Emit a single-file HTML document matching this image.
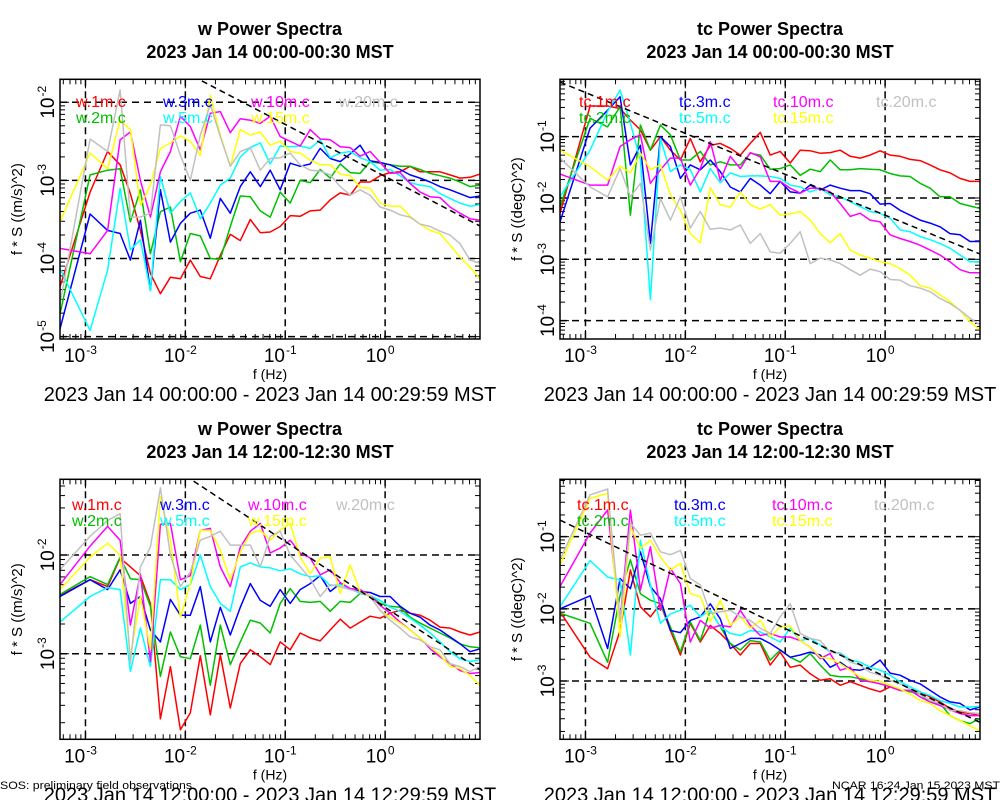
<!DOCTYPE html>
<html><head><meta charset="utf-8"><style>
html,body{margin:0;padding:0;background:#fff}
svg{display:block;font-family:"Liberation Sans",sans-serif}
</style></head><body>
<svg id="chart" width="1000" height="800" viewBox="0 0 1000 800" xmlns="http://www.w3.org/2000/svg">
<rect x="0" y="0" width="1000" height="800" fill="#fff"/>
<text x="0" y="789" font-size="11" textLength="192" lengthAdjust="spacingAndGlyphs">SOS: preliminary field observations</text>
<text x="832" y="789" font-size="11" textLength="168" lengthAdjust="spacingAndGlyphs">NCAR 16:24 Jan 15 2023 MST</text>
</svg>
<script>
// log10 frequency (Hz) for each spectral point
const logFreq = [-3.255,-2.954,-2.778,-2.653,-2.55,-2.45,-2.35,-2.25,-2.15,-2.05,-1.95,-1.85,-1.75,-1.65,-1.55,-1.45,-1.35,-1.25,-1.15,-1.05,-0.95,-0.85,-0.75,-0.65,-0.55,-0.45,-0.35,-0.25,-0.15,-0.05,0.05,0.15,0.25,0.35,0.45,0.55,0.65,0.75,0.85,0.95];
const xTickExps = [-3,-2,-1,0];
const seriesColors = ["#ff0000","#00c000","#0000ff","#00ffff","#ff00ff","#ffff00","#c0c0c0"];
const wNames = ["w.1m.c","w.2m.c","w.3m.c","w.5m.c","w.10m.c","w.15m.c","w.20m.c"];
const tcNames = ["tc.1m.c","tc.2m.c","tc.3m.c","tc.5m.c","tc.10m.c","tc.15m.c","tc.20m.c"];
// log10(f*S) values, panel 1: w 00:00
const w00_1m = [-4.36,-3.15,-2.63,-2.80,-3.17,-3.64,-4.19,-4.45,-4.24,-4.26,-4.02,-4.23,-4.26,-3.96,-3.69,-3.77,-3.50,-3.67,-3.66,-3.59,-3.45,-3.46,-3.39,-3.38,-3.25,-3.16,-3.19,-3.02,-3.02,-2.94,-2.90,-2.89,-2.82,-2.89,-2.89,-2.89,-2.93,-2.97,-2.96,-2.92];
const w00_2m = [-4.71,-2.93,-2.87,-2.85,-3.53,-3.12,-3.94,-3.40,-3.34,-4.04,-3.68,-3.71,-4.00,-4.01,-3.59,-3.20,-3.21,-3.39,-3.47,-3.15,-3.29,-3.00,-3.03,-2.86,-2.97,-2.79,-2.90,-2.91,-2.76,-2.78,-2.80,-2.82,-2.82,-2.86,-2.91,-2.94,-2.97,-3.02,-3.08,-3.06];
const w00_3m = [-4.90,-3.43,-3.64,-3.68,-4.02,-3.51,-4.41,-3.12,-3.79,-3.55,-3.42,-3.38,-3.74,-3.23,-3.42,-3.08,-2.89,-3.08,-2.87,-3.12,-2.78,-2.82,-2.79,-2.59,-2.72,-2.76,-2.66,-2.55,-2.75,-2.77,-2.80,-2.86,-2.93,-2.97,-3.02,-3.08,-3.12,-3.17,-3.22,-3.20];
const w00_5m = [-4.13,-4.92,-4.15,-3.10,-3.89,-3.76,-4.41,-2.95,-3.42,-3.27,-3.16,-3.49,-3.29,-3.06,-2.97,-2.70,-2.58,-2.52,-2.79,-2.56,-2.57,-2.56,-2.59,-2.48,-2.71,-2.65,-2.63,-2.71,-2.76,-2.87,-2.86,-2.94,-3.03,-3.06,-3.08,-3.17,-3.23,-3.29,-3.33,-3.31];
const w00_10m = [-3.87,-3.94,-3.64,-2.48,-2.38,-3.00,-3.47,-2.89,-2.63,-2.18,-2.31,-2.61,-2.14,-2.12,-2.39,-2.21,-2.23,-2.27,-2.18,-2.44,-2.50,-2.56,-2.35,-2.47,-2.48,-2.57,-2.58,-2.69,-2.63,-2.77,-2.91,-2.90,-3.04,-3.15,-3.21,-3.22,-3.34,-3.42,-3.49,-3.51];
const w00_15m = [-3.53,-2.65,-2.85,-2.23,-2.35,-3.32,-3.06,-2.59,-2.52,-2.43,-2.50,-2.68,-1.91,-2.42,-2.82,-2.35,-2.42,-2.38,-2.55,-2.50,-2.63,-2.65,-2.74,-2.80,-2.80,-2.92,-2.94,-3.09,-3.10,-3.29,-3.33,-3.33,-3.46,-3.56,-3.64,-3.68,-3.83,-3.98,-4.11,-4.26];
const w00_20m = [-4.58,-2.47,-2.63,-1.84,-3.47,-3.47,-3.42,-2.29,-2.30,-2.68,-3.00,-2.42,-2.03,-2.44,-2.82,-2.63,-2.58,-2.87,-2.72,-2.71,-2.65,-2.80,-2.87,-2.88,-2.93,-3.08,-3.19,-3.12,-3.19,-3.34,-3.38,-3.44,-3.47,-3.56,-3.59,-3.65,-3.70,-3.81,-4.02,-4.06];
// panel 2: tc 00:00
const tc00_1m = [-2.25,-0.50,-0.50,-0.54,-0.73,-0.89,-1.22,-1.00,-1.22,-1.38,-1.03,-1.41,-1.14,-1.11,-1.19,-1.30,-1.11,-0.93,-1.30,-1.24,-1.43,-1.22,-1.23,-1.27,-1.26,-1.22,-1.32,-1.35,-1.30,-1.23,-1.30,-1.32,-1.37,-1.39,-1.46,-1.54,-1.59,-1.68,-1.73,-1.73];
const tc00_2m = [-2.14,-0.70,-0.84,-0.51,-2.28,-0.81,-1.22,-0.81,-0.97,-1.38,-1.38,-1.24,-1.46,-1.41,-1.46,-1.46,-1.27,-1.30,-1.53,-1.52,-1.46,-1.63,-1.53,-1.57,-1.38,-1.54,-1.54,-1.52,-1.53,-1.54,-1.60,-1.64,-1.65,-1.76,-1.84,-1.98,-1.98,-2.09,-2.13,-2.17];
const tc00_3m = [-2.39,-0.86,-0.57,-0.35,-1.46,-1.14,-2.74,-1.00,-1.16,-1.68,-1.46,-1.54,-1.38,-1.57,-1.82,-1.90,-1.68,-1.79,-1.93,-1.73,-1.90,-1.92,-1.79,-1.87,-1.79,-1.84,-1.88,-1.88,-1.93,-2.10,-2.09,-2.20,-2.28,-2.36,-2.41,-2.47,-2.58,-2.60,-2.71,-2.71];
const tc00_5m = [-1.98,-1.22,-0.59,-0.24,-0.78,-1.38,-3.66,-1.03,-1.57,-1.46,-1.54,-1.90,-1.52,-1.75,-1.59,-1.65,-1.64,-1.64,-1.65,-1.68,-1.79,-1.82,-1.90,-1.84,-1.95,-1.98,-2.06,-2.14,-2.22,-2.25,-2.33,-2.52,-2.55,-2.63,-2.68,-2.74,-2.82,-2.93,-3.04,-3.04];
const tc00_10m = [-1.61,-1.79,-1.79,-1.16,-1.05,-0.97,-1.76,-1.54,-1.35,-1.35,-1.79,-1.52,-1.08,-1.71,-1.32,-1.52,-1.26,-1.33,-1.73,-1.73,-1.84,-1.92,-1.84,-1.84,-1.90,-2.09,-2.30,-2.25,-2.36,-2.39,-2.60,-2.66,-2.71,-2.77,-2.85,-2.93,-3.04,-3.17,-3.22,-3.22];
const tc00_15m = [-1.22,-1.49,-1.71,-1.48,-1.59,-1.27,-1.54,-1.46,-1.95,-2.20,-2.58,-2.73,-1.83,-2.11,-2.15,-1.90,-2.11,-2.18,-2.11,-2.28,-2.26,-2.22,-2.36,-2.58,-2.73,-2.58,-2.85,-2.93,-2.98,-3.04,-3.07,-3.15,-3.26,-3.43,-3.47,-3.58,-3.69,-3.83,-4.02,-4.15];
const tc00_20m = [-1.35,-1.82,-1.98,-1.52,-1.98,-1.76,-2.85,-2.01,-2.36,-1.98,-2.49,-2.22,-2.51,-2.49,-2.52,-2.44,-2.74,-2.58,-2.88,-2.90,-2.74,-2.55,-3.07,-2.98,-3.01,-3.07,-3.17,-3.26,-3.16,-3.20,-3.33,-3.34,-3.43,-3.47,-3.53,-3.64,-3.72,-3.83,-3.96,-4.07];
// panel 3: w 12:00
const w12_1m = [-2.41,-2.25,-2.32,-2.03,-2.12,-2.21,-2.49,-3.66,-3.13,-3.77,-3.60,-3.02,-3.62,-3.01,-3.55,-3.10,-2.96,-3.03,-3.11,-2.88,-2.96,-2.79,-2.84,-2.87,-2.76,-2.65,-2.74,-2.68,-2.62,-2.64,-2.59,-2.56,-2.59,-2.61,-2.66,-2.73,-2.74,-2.78,-2.81,-2.78];
const w12_2m = [-2.40,-2.22,-2.30,-2.02,-2.24,-2.25,-2.52,-3.23,-2.78,-3.03,-3.05,-2.71,-3.32,-2.71,-3.11,-2.88,-2.66,-2.69,-2.79,-2.49,-2.34,-2.47,-2.48,-2.47,-2.57,-2.47,-2.48,-2.39,-2.41,-2.49,-2.52,-2.53,-2.63,-2.69,-2.74,-2.79,-2.84,-2.90,-2.93,-2.94];
const w12_3m = [-2.42,-2.25,-2.35,-2.15,-2.49,-2.42,-2.76,-2.88,-2.45,-2.61,-2.61,-2.32,-2.88,-2.53,-2.81,-2.53,-2.29,-2.46,-2.52,-2.35,-2.49,-2.35,-2.29,-2.21,-2.37,-2.29,-2.34,-2.37,-2.38,-2.42,-2.42,-2.52,-2.59,-2.63,-2.71,-2.76,-2.83,-2.90,-2.98,-2.95];
const w12_5m = [-2.68,-2.42,-2.33,-2.35,-3.18,-2.74,-3.13,-2.25,-2.25,-2.35,-2.30,-2.00,-2.32,-2.49,-2.57,-2.12,-2.08,-2.12,-2.13,-2.16,-2.14,-2.19,-2.22,-2.21,-2.31,-2.30,-2.34,-2.39,-2.41,-2.46,-2.53,-2.57,-2.64,-2.71,-2.79,-2.88,-2.98,-3.05,-3.08,-3.06];
const w12_10m = [-2.30,-1.91,-1.71,-1.85,-2.71,-2.19,-3.08,-1.69,-1.68,-2.25,-2.21,-1.75,-1.73,-2.12,-2.32,-1.92,-1.76,-1.68,-1.98,-1.93,-1.85,-1.98,-2.03,-2.20,-2.15,-2.28,-2.34,-2.35,-2.41,-2.51,-2.59,-2.68,-2.76,-2.84,-2.95,-3.03,-3.10,-3.17,-3.20,-3.19];
const w12_15m = [-2.35,-2.02,-1.88,-2.00,-3.03,-2.42,-2.96,-1.41,-1.85,-2.63,-2.29,-1.75,-1.75,-1.95,-2.25,-1.97,-1.78,-1.75,-1.85,-1.75,-1.68,-2.02,-2.19,-2.03,-2.02,-2.39,-2.10,-2.37,-2.41,-2.56,-2.63,-2.69,-2.76,-2.84,-2.93,-3.01,-3.13,-3.15,-3.22,-3.32];
const w12_20m = [-2.15,-1.81,-1.65,-1.58,-3.10,-2.12,-1.92,-1.32,-2.00,-2.32,-2.17,-1.85,-1.81,-1.76,-1.90,-1.90,-1.90,-2.12,-1.81,-1.76,-2.00,-2.12,-2.24,-2.42,-2.30,-2.32,-2.35,-2.38,-2.42,-2.56,-2.66,-2.74,-2.83,-2.86,-2.93,-2.96,-3.10,-3.13,-3.18,-3.13];
// panel 4: tc 12:00
const tc12_1m = [-2.04,-2.67,-2.83,-2.30,-1.46,-1.97,-2.11,-1.93,-2.30,-2.64,-2.20,-2.46,-2.23,-2.34,-2.48,-2.64,-2.48,-2.48,-2.78,-2.60,-2.81,-2.78,-2.90,-2.99,-2.97,-3.06,-3.01,-3.06,-3.11,-3.15,-3.08,-3.13,-3.13,-3.15,-3.22,-3.29,-3.38,-3.43,-3.45,-3.48];
const tc12_2m = [-2.06,-2.20,-2.74,-1.81,-1.32,-1.79,-1.88,-1.93,-2.25,-2.60,-2.18,-2.44,-2.02,-2.25,-2.48,-2.57,-2.44,-2.46,-2.71,-2.57,-2.67,-2.74,-2.62,-2.78,-2.92,-2.94,-2.94,-2.97,-2.99,-3.01,-3.06,-3.13,-3.15,-3.18,-3.29,-3.31,-3.48,-3.55,-3.59,-3.52];
const tc12_3m = [-2.00,-1.82,-2.55,-1.58,-1.72,-1.21,-1.69,-1.86,-2.30,-2.33,-2.16,-2.11,-1.93,-2.14,-2.55,-2.48,-2.41,-2.41,-2.48,-2.57,-2.67,-2.64,-2.60,-2.64,-2.81,-2.74,-2.84,-2.85,-2.81,-2.71,-2.89,-2.92,-2.99,-3.04,-3.13,-3.22,-3.29,-3.31,-3.40,-3.36];
const tc12_5m = [-1.97,-1.33,-1.56,-1.60,-2.64,-1.05,-1.67,-2.20,-2.07,-2.02,-1.95,-2.11,-2.02,-2.25,-2.34,-2.37,-2.30,-2.32,-2.39,-2.46,-2.27,-2.44,-2.41,-2.50,-2.60,-2.61,-2.71,-2.74,-2.81,-2.85,-2.92,-3.01,-3.08,-3.15,-3.20,-3.27,-3.31,-3.36,-3.36,-3.35];
const tc12_10m = [-1.69,-0.95,-0.63,-2.16,-0.63,-1.74,-1.14,-2.02,-1.44,-1.65,-2.46,-2.16,-2.27,-2.23,-2.25,-2.02,-2.23,-2.37,-2.34,-2.39,-2.39,-2.44,-2.53,-2.69,-2.62,-2.85,-2.81,-2.99,-3.01,-3.04,-3.08,-3.13,-3.13,-3.22,-3.29,-3.34,-3.40,-3.45,-3.48,-3.48];
const tc12_15m = [-1.39,-0.47,-0.40,-2.39,-0.86,-1.16,-1.05,-1.28,-1.46,-1.37,-1.79,-1.83,-2.18,-1.88,-2.23,-2.11,-2.27,-2.16,-2.39,-2.25,-2.24,-2.44,-2.53,-2.67,-2.69,-2.76,-2.85,-2.94,-2.99,-3.01,-3.06,-3.11,-3.18,-3.27,-3.31,-3.41,-3.48,-3.55,-3.62,-3.69];
const tc12_20m = [-1.32,-0.42,-0.34,-2.18,-0.81,-0.98,-0.95,-1.21,-1.25,-1.19,-1.58,-1.67,-2.06,-2.04,-2.02,-2.11,-2.16,-2.27,-2.34,-2.11,-1.93,-2.34,-2.41,-2.44,-2.60,-2.62,-2.74,-2.78,-2.88,-2.92,-2.99,-3.04,-3.11,-3.18,-3.27,-3.31,-3.41,-3.41,-3.44,-3.45];
// reference slope line: log10(f*S) at f = 1 Hz, slope -2/3
const refAtOneHz = [-2.95,-2.28,-2.53,-2.94];
const yTickExps1 = [-2,-3,-4,-5];
const yTickExps2 = [-1,-2,-3,-4];
const yTickExps3 = [-2,-3];
const yTickExps4 = [-1,-2,-3];

const NS = "http://www.w3.org/2000/svg";
const svg = document.getElementById("chart");
function mk(tag, attrs, parent) {
  const e = document.createElementNS(NS, tag);
  for (const k in attrs) e.setAttribute(k, attrs[k]);
  (parent || svg).appendChild(e);
  return e;
}

const panels = [
  {key:"w-00", x0:60, y0:79.3, y1:339, lt:-1.706, lb:-5.03, title:"w Power Spectra", sub:"2023 Jan 14 00:00-00:30 MST", ylab:"f * S ((m/s)^2)", date:"2023 Jan 14 00:00:00 - 2023 Jan 14 00:29:59 MST", names:wNames, series:[w00_1m,w00_2m,w00_3m,w00_5m,w00_10m,w00_15m,w00_20m], yt:yTickExps1, ref:refAtOneHz[0], leg1:101, leg2:117, legX:[76,163,251,339]},
  {key:"tc-00", x0:560, y0:79.3, y1:339, lt:-0.064, lb:-4.30, title:"tc Power Spectra", sub:"2023 Jan 14 00:00-00:30 MST", ylab:"f * S ((degC)^2)", date:"2023 Jan 14 00:00:00 - 2023 Jan 14 00:29:59 MST", names:tcNames, series:[tc00_1m,tc00_2m,tc00_3m,tc00_5m,tc00_10m,tc00_15m,tc00_20m], yt:yTickExps2, ref:refAtOneHz[1], leg1:101, leg2:117, legX:[579,679,773,876]},
  {key:"w-12", x0:60, y0:479.3, y1:739.3, lt:-1.233, lb:-3.867, title:"w Power Spectra", sub:"2023 Jan 14 12:00-12:30 MST", ylab:"f * S ((m/s)^2)", date:"2023 Jan 14 12:00:00 - 2023 Jan 14 12:29:59 MST", names:wNames, series:[w12_1m,w12_2m,w12_3m,w12_5m,w12_10m,w12_15m,w12_20m], yt:yTickExps3, ref:refAtOneHz[2], leg1:504, leg2:520, legX:[72,160,248,336]},
  {key:"tc-12", x0:560, y0:479.3, y1:739.3, lt:-0.205, lb:-3.808, title:"tc Power Spectra", sub:"2023 Jan 14 12:00-12:30 MST", ylab:"f * S ((degC)^2)", date:"2023 Jan 14 12:00:00 - 2023 Jan 14 12:29:59 MST", names:tcNames, series:[tc12_1m,tc12_2m,tc12_3m,tc12_5m,tc12_10m,tc12_15m,tc12_20m], yt:yTickExps4, ref:refAtOneHz[3], leg1:504, leg2:520, legX:[577,674,772,874]}
];
const LF0 = -3.255, LF1 = 0.95, PW = 420;

panels.forEach((p, pi) => {
  const xs = lf => p.x0 + (lf - LF0) / (LF1 - LF0) * PW;
  const ys = lv => p.y0 + (p.lt - lv) / (p.lt - p.lb) * (p.y1 - p.y0);
  const x1 = p.x0 + PW, cx = p.x0 + PW / 2;
  const g = mk("g", {});
  
  
  const baseY = pi >= 2 ? 400 : 0;
  const t1 = mk("text", {x:cx, y:35 + baseY, "font-size":18, "font-weight":"bold", "text-anchor":"middle"}, g);
  t1.textContent = p.title;
  
  
  const t2 = mk("text", {x:cx, y:58 + baseY, "font-size":18, "font-weight":"bold", "text-anchor":"middle"}, g);
  t2.textContent = p.sub;
  
  
  const clipId = "clip" + pi;
  const cp = mk("clipPath", {id:clipId}, g);
  mk("rect", {x:p.x0, y:p.y0, width:PW, height:p.y1 - p.y0}, cp);
  const grid = mk("g", {stroke:"#000", "stroke-width":1.5, "stroke-dasharray":"7,5", fill:"none"}, g);
  
  
  xTickExps.forEach(e => { const x = xs(e); mk("line", {x1:x, x2:x, y1:p.y0, y2:p.y1}, grid); });
  p.yt.forEach(e => { const y = ys(e); mk("line", {x1:p.x0, x2:x1, y1:y, y2:y}, grid); });
  const ticks = mk("g", {stroke:"#000", "stroke-width":1}, g);
  
  
  for (let d = -4; d <= 1; d++) for (let m = 1; m <= 9; m++) {
    const lf = d + Math.log10(m); if (lf < LF0 || lf > LF1) continue;
    const x = xs(lf), L = m === 1 ? 9 : 5;
    mk("line", {x1:x, x2:x, y1:p.y1, y2:p.y1 - L}, ticks);
    mk("line", {x1:x, x2:x, y1:p.y0, y2:p.y0 + L}, ticks);
  }
  for (let d = -6; d <= 1; d++) for (let m = 1; m <= 9; m++) {
    const lv = d + Math.log10(m); if (lv > p.lt || lv < p.lb) continue;
    const y = ys(lv), L = m === 1 ? 9 : 5;
    mk("line", {x1:p.x0, x2:p.x0 + L, y1:y, y2:y}, ticks);
    mk("line", {x1:x1, x2:x1 - L, y1:y, y2:y}, ticks);
  }
  const sg = mk("g", {"clip-path":"url(#" + clipId + ")", fill:"none", "stroke-width":1.5}, g);
  p.series.forEach((arr, si) => {
    const pts = arr.map((v, i) => xs(logFreq[i]).toFixed(1) + "," + ys(v).toFixed(1)).join(" ");
    const pl = mk("polyline", {points:pts, stroke:seriesColors[si], "stroke-linejoin":"round"}, sg);
    
    
  });
  const rl = mk("line", {x1:xs(LF0), y1:ys(p.ref - 2/3 * LF0), x2:xs(LF1), y2:ys(p.ref - 2/3 * LF1), stroke:"#000", "stroke-width":1.5, "stroke-dasharray":"6,4"}, sg);
  
  
  p.names.forEach((n, si) => {
    const col = si < 2 ? 0 : si < 4 ? 1 : si < 6 ? 2 : 3;
    const row = (si === 6 || si % 2 === 0) ? 0 : 1;
    const t = mk("text", {x:p.legX[col], y:(row ? p.leg2 : p.leg1) + 6, "font-size":16, fill:seriesColors[si]}, g);
    t.textContent = n;
    
    
  });
  const fr = mk("rect", {x:p.x0, y:p.y0, width:PW, height:p.y1 - p.y0, fill:"none", stroke:"#000", "stroke-width":1.5}, g);
  
  
  xTickExps.forEach(e => {
    const t = mk("text", {x:xs(e) - 5, y:p.y1 + 23, "font-size":19, "text-anchor":"middle"}, g);
    t.textContent = "10";
    const s = mk("tspan", {"font-size":12, dy:-8, dx:1}, t);
    s.textContent = String(e);
    
    
  });
  p.yt.forEach(e => {
    const y = ys(e), lx = p.x0 - 12;
    const t = mk("text", {x:lx, y:y + 6, "font-size":19, "text-anchor":"middle", transform:"rotate(-90 " + lx + " " + y + ")"}, g);
    t.textContent = "10";
    const s = mk("tspan", {"font-size":12, dy:-8, dx:1}, t);
    s.textContent = String(e);
    
    
  });
  const ylx = p.x0 - 38, yly = (p.y0 + p.y1) / 2;
  const yl = mk("text", {x:ylx, y:yly, "font-size":15, "text-anchor":"middle", transform:"rotate(-90 " + ylx + " " + yly + ")"}, g);
  yl.textContent = p.ylab;
  
  
  const xl = mk("text", {x:cx, y:p.y1 + 40, "font-size":14, "text-anchor":"middle"}, g);
  xl.textContent = "f (Hz)";
  
  
  const dl = mk("text", {x:cx, y:p.y1 + 62, "font-size":20, "text-anchor":"middle"}, g);
  dl.textContent = p.date;
  
  
});
</script>
</body></html>
